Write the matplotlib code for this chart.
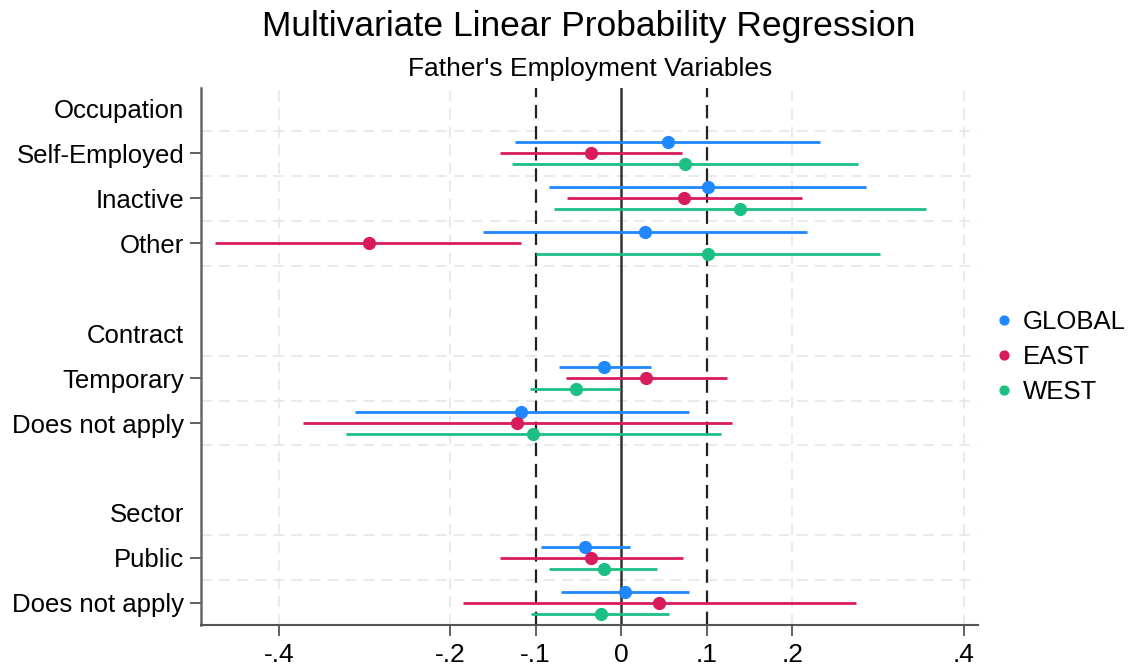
import numpy as np
import matplotlib.pyplot as plt

plt.rcParams['font.family'] = ['Liberation Sans', 'DejaVu Sans']

# rows from top: group headers and coefficients
row_labels = ["Occupation", "Self-Employed", "Inactive", "Other", "",
              "Contract", "Temporary", "Does not apply", "",
              "Sector", "Public", "Does not apply"]
header_rows = [1, 5, 9]
coef_rows = [2, 3, 4, 7, 8, 11, 12]

series = ["GLOBAL", "EAST", "WEST"]
colors = ["#1f87ff", "#d81b5d", "#1cc083"]

# point estimates per coefficient row (Self-Employed, Inactive, Other, Temporary, DNA, Public, DNA)
est = {
    "GLOBAL": [0.055, 0.101, 0.028, -0.020, -0.117, -0.042, 0.004],
    "EAST":   [-0.035, 0.073, -0.295, 0.029, -0.122, -0.035, 0.044],
    "WEST":   [0.074, 0.139, 0.101, -0.053, -0.103, -0.020, -0.024],
}
lo = {
    "GLOBAL": [-0.124, -0.084, -0.161, -0.073, -0.311, -0.094, -0.070],
    "EAST":   [-0.141, -0.063, -0.474, -0.065, -0.372, -0.142, -0.185],
    "WEST":   [-0.128, -0.079, -0.100, -0.106, -0.322, -0.084, -0.105],
}
hi = {
    "GLOBAL": [0.232, 0.286, 0.217, 0.035, 0.079, 0.010, 0.079],
    "EAST":   [0.071, 0.211, -0.117, 0.123, 0.129, 0.072, 0.274],
    "WEST":   [0.277, 0.356, 0.302, -0.001, 0.116, 0.042, 0.056],
}
offsets = [-0.245, 0.0, 0.245]

xticks = [-0.4, -0.2, -0.1, 0, 0.1, 0.2, 0.4]
xticklabels = ["-.4", "-.2", "-.1", "0", ".1", ".2", ".4"]
grid_rows = [1.5, 2.5, 3.5, 4.5, 6.5, 7.5, 8.5, 10.5, 11.5]

fig = plt.figure(figsize=(11.41, 6.68), dpi=100)
ax = fig.add_axes([0.176, 0.064, 0.681, 0.804])

# grid
for g in grid_rows:
    ax.axhline(g, color="#e8e8e8", lw=1.3, ls=(0, (6, 4)), zorder=0)
for t in [-0.4, -0.2, 0.2, 0.4]:
    ax.axvline(t, color="#e8e8e8", lw=1.3, ls=(0, (6, 4)), zorder=0)

# reference lines
ax.axvline(0, color="#333333", lw=1.8, zorder=1)
ax.axvline(-0.1, color="#222222", lw=1.6, ls=(0, (6, 3.5)), zorder=1)
ax.axvline(0.1, color="#222222", lw=1.6, ls=(0, (6, 3.5)), zorder=1)

for s, c, off in zip(series, colors, offsets):
    y = np.array(coef_rows) + off
    ax.hlines(y, lo[s], hi[s], color=c, lw=2.0, zorder=2)
    ax.plot(est[s], y, "o", color=c, ms=8.5, zorder=3, label=s)

ax.set_xlim(-0.491, 0.4165)
ax.set_ylim(12.5, 0.55)
ax.set_xticks(xticks)
ax.set_xticklabels(xticklabels, fontsize=19)
ax.set_yticks(range(1, 13))
ax.set_yticklabels(row_labels, fontsize=18.5)
ax.tick_params(axis="y", length=8, width=1.3, color="#555555", pad=4)
ax.tick_params(axis="x", length=8, width=1.3, color="#555555", pad=5)
for i, t in enumerate(ax.yaxis.get_major_ticks()):
    if (i + 1) not in coef_rows:
        t.tick1line.set_visible(False)

ax.spines["top"].set_visible(False)
ax.spines["right"].set_visible(False)
ax.spines["left"].set_color("#666666")
ax.spines["left"].set_linewidth(1.8)
ax.spines["bottom"].set_color("#555555")
ax.spines["bottom"].set_linewidth(1.5)

leg = ax.legend(loc="center left", bbox_to_anchor=(0.988, 0.5), frameon=False,
                fontsize=18.5, handletextpad=0.2, markerscale=0.75,
                labelspacing=0.42, handlelength=1.0)

fig.text(0.516, 0.96, "Multivariate Linear Probability Regression",
         ha="center", va="center", fontsize=25.5)
fig.text(0.517, 0.897, "Father's Employment Variables",
         ha="center", va="center", fontsize=19)

fig.savefig("out.png", dpi=100)
